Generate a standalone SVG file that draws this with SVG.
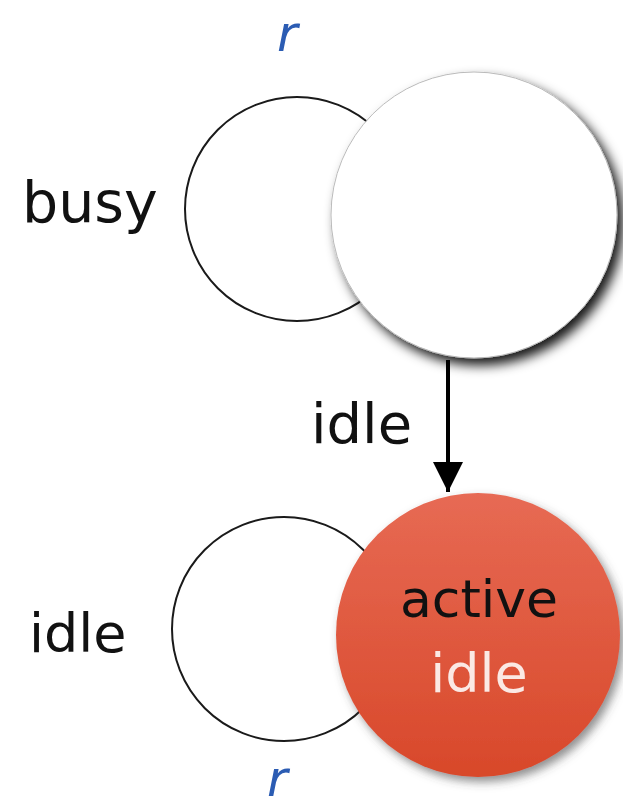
<svg xmlns="http://www.w3.org/2000/svg" width="623" height="807" viewBox="0 0 623 807">
  <defs>
    <style>
      .lbl { font-family: "DejaVu Sans", Verdana, sans-serif; fill: #111; }
      .var { font-family: "DejaVu Sans", Verdana, sans-serif; font-style: italic; fill: #2b5cb3; font-size: 50px; }
      .ring { fill: #fff; stroke: #1a1a1a; stroke-width: 2; }
    </style>
    <filter id="shadowDark" x="-20%" y="-20%" width="150%" height="150%">
      <feDropShadow dx="6" dy="7" stdDeviation="6" flood-color="#000" flood-opacity="0.9"/>
    </filter>
    <filter id="shadowSoft" x="-20%" y="-20%" width="150%" height="150%">
      <feDropShadow dx="4" dy="5" stdDeviation="5" flood-color="#444" flood-opacity="0.6"/>
    </filter>
    <linearGradient id="redFill" x1="0" y1="0" x2="0" y2="1">
      <stop offset="0" stop-color="#e76a54"/>
      <stop offset="1" stop-color="#d8482a"/>
    </linearGradient>
    <marker id="arrowHead" viewBox="0 0 30 30" refX="30" refY="15" markerWidth="30" markerHeight="30" markerUnits="userSpaceOnUse" orient="auto">
      <path d="M0,0 L30,15 L0,30 Z" fill="#000"/>
    </marker>
  </defs>
  <rect width="623" height="807" fill="#fff"/>

  <!-- upper pair: busy -->
  <g id="busy-ring">
    <circle class="ring" cx="297" cy="209" r="112"/>
  </g>
  <g id="busy-node">
    <circle cx="474" cy="215" r="143" fill="#fff" stroke="#bbb" stroke-width="1" filter="url(#shadowDark)"/>
  </g>
  <text class="lbl" x="22" y="222" font-size="57">busy</text>
  <text class="var" x="277" y="51">r</text>

  <!-- transition -->
  <g id="connectors">
    <line x1="448" y1="360" x2="448" y2="492" stroke="#000" stroke-width="4" marker-end="url(#arrowHead)"/>
  </g>
  <text class="lbl" x="311" y="443" font-size="56">idle</text>

  <!-- lower pair: idle -->
  <g id="idle-ring">
    <circle class="ring" cx="284" cy="629" r="112"/>
  </g>
  <g id="active-node">
    <circle cx="478" cy="635" r="142" fill="url(#redFill)" filter="url(#shadowSoft)"/>
    <text class="lbl" x="479" y="617" font-size="52" text-anchor="middle">active</text>
    <text class="lbl" x="479" y="692" font-size="54" text-anchor="middle" style="fill:#fbe9e4">idle</text>
  </g>
  <text class="lbl" x="29" y="652" font-size="54">idle</text>
  <text class="var" x="267" y="796" font-size="48">r</text>
</svg>
